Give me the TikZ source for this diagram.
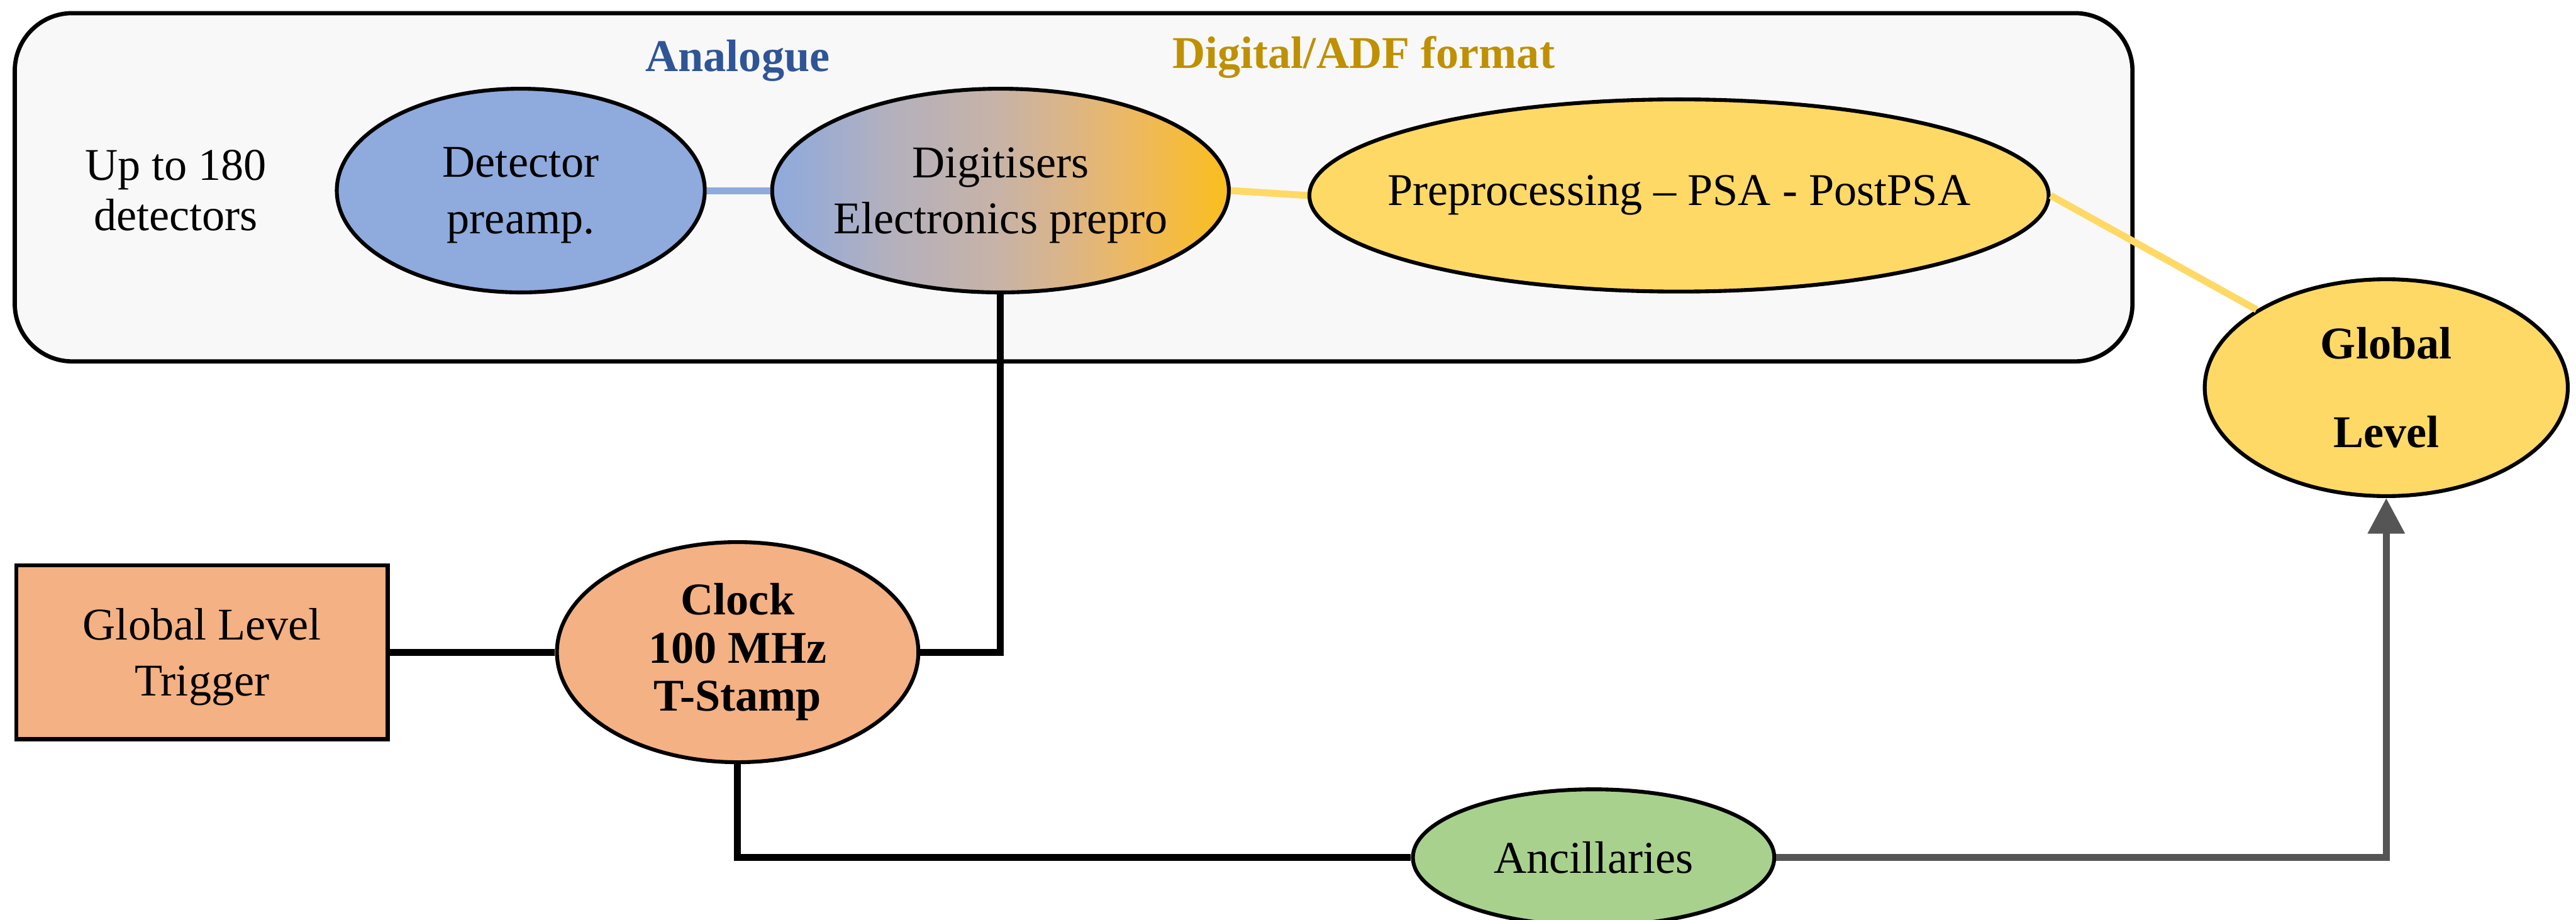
\documentclass[tikz,border=0pt]{standalone}
\usepackage{fontspec}
\setmainfont{Liberation Serif}
\usetikzlibrary{shapes.geometric,arrows.meta}
\definecolor{frameFill}{HTML}{F8F8F8}
\definecolor{blueFill}{HTML}{8FAADC}
\definecolor{goldFill}{HTML}{FFD966}
\definecolor{orangeFill}{HTML}{F4B183}
\definecolor{greenFill}{HTML}{A9D18E}
\definecolor{gradEnd}{HTML}{FBBE1C}
\definecolor{gradA}{HTML}{9BACD2}
\definecolor{gradB}{HTML}{B3B0BE}
\definecolor{gradMid}{HTML}{C8B3A6}
\definecolor{gradC}{HTML}{DCB586}
\definecolor{gradD}{HTML}{EEB95E}
\definecolor{anaText}{HTML}{2F5597}
\definecolor{digText}{HTML}{BF9000}
\definecolor{arrowGray}{HTML}{555555}
\pgfdeclarehorizontalshading{digishade}{100bp}{color(0bp)=(blueFill); color(25bp)=(blueFill); color(30bp)=(gradA); color(37.5bp)=(gradB); color(50bp)=(gradMid); color(57.5bp)=(gradC); color(65bp)=(gradD); color(75bp)=(gradEnd); color(100bp)=(gradEnd)}
\tikzset{
  txt/.style={font=\fontsize{23.6pt}{28pt}\selectfont, align=center, inner sep=0pt},
  ell/.style={ellipse, draw=black, line width=2pt, inner sep=0pt, txt},
  conn/.style={line width=3.6pt},
}
\begin{document}
\begin{tikzpicture}[x=0.3mm, y=-0.3mm]
\useasboundingbox (0,0) rectangle (1568,560);
% container
\node[draw=black, line width=2.2pt, fill=frameFill, rounded corners=10.5mm,
      minimum width=386.7mm, minimum height=63.6mm, inner sep=0pt] (frame) at (653.5,114) {};
\node[txt, font=\fontsize{23.6pt}{28pt}\selectfont\bfseries, text=anaText] (ana) at (449,37) {Analogue};
\node[txt, font=\fontsize{23.6pt}{28pt}\selectfont\bfseries, text=digText] (dig) at (830,35) {Digital/ADF format};
\node[txt, font=\fontsize{23.6pt}{26pt}\selectfont] (upto) at (107,116) {Up to 180\\detectors};
% nodes
\node[ell, fill=blueFill, minimum width=67.2mm, minimum height=37.2mm, text depth=0pt] (det) at (317,116) {Detector\\[1.2pt]preamp.};
\node[ell, inner xsep=-2mm, shading=digishade, minimum width=83.4mm, minimum height=37.2mm, text depth=0pt] (digi) at (609,116) {Digitisers\\[1.2pt]Electronics prepro};
\node[ell, inner xsep=-6mm, fill=goldFill, minimum width=135mm, minimum height=35.1mm] (pre) at (1022,119) {Preprocessing -- PSA - PostPSA};
\node[ell, fill=goldFill, minimum width=66.3mm, minimum height=39.6mm, font=\fontsize{23.6pt}{28pt}\selectfont\bfseries] (gl) at (1452.5,236) {Global\\[18pt]Level};
\node[draw=black, line width=2pt, fill=orangeFill, minimum width=67.8mm, minimum height=31.8mm, txt, text depth=0pt] (trig) at (123,397) {Global Level\\[1.2pt]Trigger};
\node[ell, fill=orangeFill, minimum width=66mm, minimum height=40.2mm, font=\fontsize{23.6pt}{25pt}\selectfont\bfseries] (clock) at (449,397) {Clock\\100 MHz\\T-Stamp};
\node[ell, fill=greenFill, minimum width=66mm, minimum height=24.9mm] (anc) at (970,522) {Ancillaries};
% connectors
\draw[conn, draw=blueFill] (det.east) -- (digi.west);
\draw[conn, draw=goldFill] (digi.east) -- (pre.west);
\draw[conn, draw=goldFill] (pre.east) -- (gl.north west);
\draw[conn, draw=black] (trig.east) -- (clock.west);
\draw[conn, draw=black] (clock.east) -| (digi.south);
\draw[conn, draw=black] (clock.south) |- (anc.west);
\draw[conn, draw=arrowGray, -{Triangle[length=6.5mm, width=6.5mm]}] (anc.east) -| (gl.south);
\end{tikzpicture}
\end{document}
